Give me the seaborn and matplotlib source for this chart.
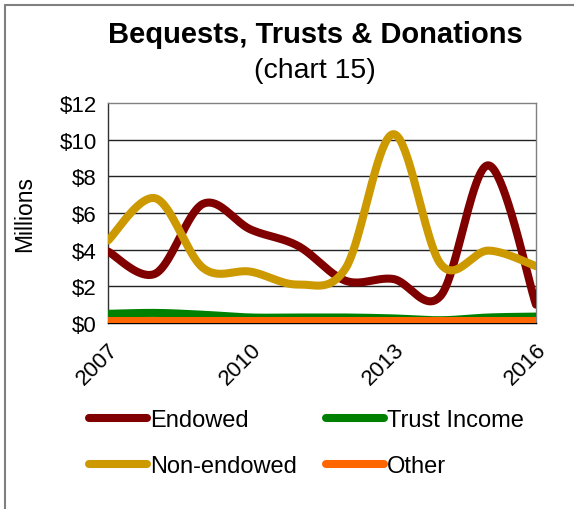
import numpy as np
import pandas as pd
import seaborn as sns
import matplotlib
matplotlib.use("Agg")
import matplotlib.pyplot as plt
from matplotlib.lines import Line2D
from matplotlib.ticker import FixedLocator, FuncFormatter

# Annual values, $ millions
years = [2007, 2008, 2009, 2010, 2011, 2012, 2013, 2014, 2015, 2016]
endowed = [3.9, 2.7, 6.5, 5.1, 4.2, 2.3, 2.4, 1.5, 8.6, 1.0]
non_endowed = [4.5, 6.8, 3.0, 2.8, 2.1, 3.0, 10.3, 3.2, 3.95, 3.1]
trust_income = [0.5, 0.55, 0.45, 0.3, 0.3, 0.3, 0.25, 0.15, 0.3, 0.35]
other = [0.1, 0.1, 0.1, 0.1, 0.1, 0.1, 0.1, 0.1, 0.1, 0.1]

series_names = ["Endowed", "Non-endowed", "Trust Income", "Other"]
series_values = [endowed, non_endowed, trust_income, other]
series_colors = ["#800000", "#CC9900", "#008000", "#FF6600"]
labeled_years = [2007, 2010, 2013, 2016]


def smooth_curve(xs, ys, steps=40):
    """Catmull-Rom spline through the data points (smoothed line rendering)."""
    xs = np.asarray(xs, float)
    ys = np.asarray(ys, float)
    px = np.concatenate([[xs[0]], xs, [xs[-1]]])
    py = np.concatenate([[ys[0]], ys, [ys[-1]]])
    out_x, out_y = [], []
    t = np.linspace(0, 1, steps, endpoint=False)
    for i in range(1, len(px) - 2):
        for arr, out in ((px, out_x), (py, out_y)):
            p0, p1, p2, p3 = arr[i - 1], arr[i], arr[i + 1], arr[i + 2]
            seg = 0.5 * ((2 * p1) + (-p0 + p2) * t
                         + (2 * p0 - 5 * p1 + 4 * p2 - p3) * t ** 2
                         + (-p0 + 3 * p1 - 3 * p2 + p3) * t ** 3)
            out.extend(seg)
    out_x.append(xs[-1])
    out_y.append(ys[-1])
    return np.array(out_x), np.array(out_y)


frames = []
for name, vals in zip(series_names, series_values):
    sx, sy = smooth_curve(years, vals)
    frames.append(pd.DataFrame({"year": sx, "value": sy, "series": name}))
df = pd.concat(frames, ignore_index=True)

sns.set_theme(style="white")
plt.rcParams["font.family"] = ["Liberation Sans", "DejaVu Sans"]
plt.rcParams["text.color"] = "black"

W, H = 574, 510
fig = plt.figure(figsize=(W / 100, H / 100), dpi=100)
ax = fig.add_axes([108 / W, 1 - 324 / H, (536 - 108) / W, (324 - 104) / H])

sns.lineplot(data=df, x="year", y="value", hue="series", hue_order=series_names,
             palette=series_colors, sort=False, estimator=None, linewidth=5.8,
             legend=False, ax=ax, solid_capstyle="round", zorder=3)

ax.set_xlim(2007, 2016)
ax.set_ylim(0, 12)
ax.set_yticks([0, 2, 4, 6, 8, 10, 12])
ax.yaxis.set_major_formatter(FuncFormatter(lambda v, p: f"${v:.0f}"))
ax.xaxis.set_major_locator(FixedLocator(years))
ax.set_xticklabels([str(y) if y in labeled_years else "" for y in years],
                   rotation=45, ha="right", va="top", rotation_mode="anchor")
ax.tick_params(axis="both", which="both", direction="out", length=5, width=1,
               color="black", labelsize=16, labelcolor="black", pad=3)
ax.tick_params(axis="x", pad=6)
ax.set_xlabel("")
ax.set_ylabel("")

for v in [2, 4, 6, 8, 10]:
    ax.axhline(v, color="#222222", lw=1, zorder=1)

ax.spines["top"].set_linestyle((0, (1, 1)))
ax.spines["top"].set_color("#808080")
ax.spines["right"].set_linestyle((0, (1, 1)))
ax.spines["right"].set_color("#808080")
ax.spines["left"].set_linestyle((0, (1, 1)))
ax.spines["left"].set_color("#303030")
ax.spines["bottom"].set_color("black")
for s in ax.spines.values():
    s.set_linewidth(1)

fig.text(315 / W, 1 - 35 / H, "Bequests, Trusts & Donations", ha="center",
         va="center", fontsize=21, fontweight="bold", color="black")
fig.text(315 / W, 1 - 71 / H, "(chart 15)", ha="center", va="center",
         fontsize=20.5, color="black")
fig.text(25 / W, 1 - 214 / H, "Millions", ha="center", va="center",
         rotation=90, fontsize=16.5, color="black")

handles = [Line2D([0], [0], color=c, lw=5.8, solid_capstyle="round")
           for c in series_colors]
leg = fig.legend(handles, series_names, ncol=2, frameon=False, fontsize=17,
                 loc="center left", bbox_to_anchor=(89 / W, 1 - 444 / H),
                 handlelength=2.45, handletextpad=0.12, labelspacing=1.0,
                 columnspacing=1.25, borderaxespad=0, borderpad=0)
for txt in leg.get_texts():
    txt.set_color("black")

# Frame lines along the top and left edges of the figure
fig.add_artist(Line2D([5 / W, 5 / W], [0, 1 - 6 / H], color="#808080", lw=1.5))
fig.add_artist(Line2D([5 / W, 1], [1 - 6 / H, 1 - 6 / H], color="#808080", lw=1.5))

fig.savefig("out.png", dpi=100, facecolor="white")
